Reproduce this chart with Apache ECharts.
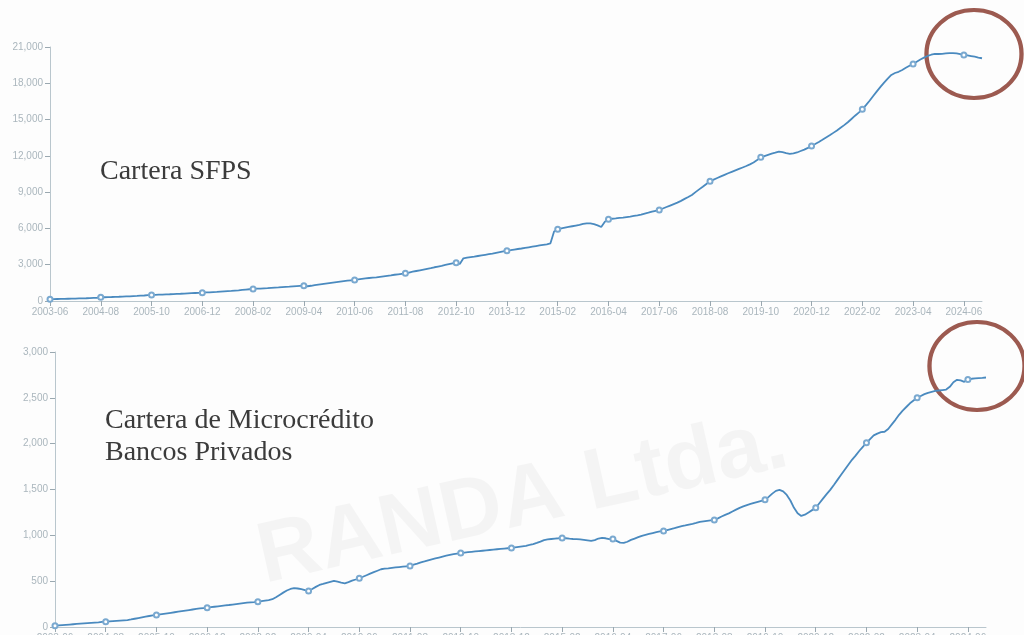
<!DOCTYPE html>
<html>
<head>
<meta charset="utf-8">
<title>Cartera SFPS / Microcrédito</title>
<script src="https://cdn.jsdelivr.net/npm/echarts@6/dist/echarts.min.js"></script>
<style>
  html, body { margin: 0; padding: 0; background: #fdfdfd; }
  #chart { width: 1024px; height: 635px; }
</style>
</head>
<body>
<div id="chart"></div>
<script>
// meses 2003-06 .. 2024-11
var months = []
for (var y = 2003, m = 6; months.length < 258; m++) {
  if (m > 12) { m = 1; y++ }
  months.push(y + '-' + (m < 10 ? '0' + m : m))
}

var sfpsTicks = [0, 3000, 6000, 9000, 12000, 15000, 18000, 21000]
var microTicks = [0, 500, 1000, 1500, 2000, 2500, 3000]

// Cartera SFPS (mensual)
var sfps = [
  150, 158, 165, 170, 178, 185, 192, 200, 210, 218, 228, 240, 255, 270,
  300, 312, 320, 330, 342, 352, 365, 378, 390, 405, 420, 438, 455, 478,
  500, 512, 525, 535, 548, 560, 575, 588, 600, 615, 630, 645, 660, 675,
  690, 705, 720, 738, 755, 775, 795, 815, 835, 860, 885, 915, 945, 972,
  1000, 1015, 1030, 1048, 1065, 1085, 1105, 1125, 1148, 1170, 1190, 1215, 1235, 1255,
  1270, 1220, 1260, 1320, 1360, 1400, 1440, 1480, 1520, 1560, 1600, 1640, 1680, 1710,
  1740, 1790, 1830, 1870, 1900, 1930, 1960, 2000, 2040, 2080, 2120, 2170, 2210, 2250,
  2290, 2350, 2420, 2480, 2540, 2600, 2660, 2720, 2790, 2850, 2910, 2980, 3050, 3110,
  3170, 3060, 3530, 3580, 3620, 3660, 3720, 3770, 3820, 3870, 3920, 3980, 4040, 4100,
  4160, 4200, 4250, 4300, 4340, 4390, 4440, 4490, 4540, 4590, 4640, 4690, 4770, 5750,
  5930, 6000, 6060, 6120, 6180, 6240, 6300, 6370, 6420, 6410, 6350, 6250, 6120, 6550,
  6760, 6800, 6830, 6870, 6900, 6940, 6980, 7030, 7080, 7140, 7230, 7300, 7380, 7460,
  7530, 7650, 7770, 7890, 8010, 8130, 8280, 8440, 8600, 8770, 9000, 9230, 9450, 9680,
  9900, 10040, 10170, 10300, 10430, 10560, 10680, 10800, 10920, 11040, 11160, 11300, 11450, 11650,
  11880, 11980, 12080, 12180, 12260, 12350, 12300, 12220, 12160, 12200, 12280, 12400, 12520, 12660,
  12820, 12980, 13150, 13330, 13520, 13700, 13900, 14100, 14320, 14540, 14780, 15050, 15320, 15580,
  15850, 16200, 16560, 16950, 17330, 17700, 18050, 18380, 18690, 18850, 18950, 19100, 19280, 19450,
  19600, 19780, 19960, 20120, 20260, 20360, 20430, 20420, 20440, 20470, 20490, 20500, 20470, 20410,
  20340, 20300, 20250, 20200, 20130, 20070
]

// Cartera de Microcrédito Bancos Privados (mensual)
var micro = [
  15, 18, 21, 24, 27, 30, 33, 36, 39, 42, 45, 48, 51, 55,
  58, 61, 64, 67, 70, 73, 76, 82, 90, 98, 106, 114, 120, 126,
  131, 137, 143, 149, 155, 161, 167, 173, 179, 185, 191, 197, 203, 207,
  211, 216, 221, 226, 231, 236, 240, 245, 250, 255, 260, 265, 269, 272,
  276, 282, 288, 294, 303, 325, 350, 375, 398, 415, 423, 420, 412, 402,
  393, 415, 438, 459, 470, 482, 492, 502, 495, 485, 477, 490, 505, 518,
  532, 548, 565, 582, 598, 614, 630, 636, 640, 645, 650, 654, 658, 662,
  666, 680, 692, 705, 716, 728, 738, 748, 758, 768, 778, 786, 794, 801,
  808, 812, 816, 820, 824, 828, 832, 836, 840, 844, 848, 852, 856, 859,
  862, 868, 874, 880, 886, 895, 905, 918, 932, 948, 955, 960, 965, 968,
  972, 968, 963, 960, 958, 955, 950, 945, 940, 948, 965, 972, 968, 958,
  961, 940, 920, 918, 930, 950, 965, 980, 995, 1005, 1015, 1025, 1035, 1042,
  1048, 1058, 1068, 1078, 1090, 1100, 1108, 1118, 1126, 1135, 1146, 1152, 1158, 1163,
  1168, 1185, 1205, 1223, 1240, 1260, 1280, 1300, 1315, 1330, 1342, 1354, 1365, 1376,
  1387, 1420, 1455, 1485, 1496, 1480, 1441, 1380, 1300, 1240, 1212, 1225, 1250, 1275,
  1300, 1350, 1400, 1450, 1496, 1550, 1605, 1660, 1715, 1770, 1824, 1870, 1920, 1965,
  2010, 2050, 2090, 2110, 2125, 2130, 2160, 2210, 2260, 2315, 2360, 2400, 2440, 2470,
  2500, 2520, 2540, 2555, 2566, 2575, 2580, 2585, 2590, 2620, 2670, 2697, 2690, 2675,
  2700, 2708, 2712, 2715, 2718, 2722
]

var lineColor = '#4a8abf'
var axisColor = '#b9c6cd'
var labelColor = '#aab6bd'

// etiqueta cada 14 meses
function every14(i) { return i % 14 === 0 }

function xAxisFor(idx) {
  return {
    type: 'category',
    gridIndex: idx,
    data: months,
    boundaryGap: false,
    axisLine: { lineStyle: { color: axisColor } },
    axisTick: { interval: every14, lineStyle: { color: '#9aa8b0' } },
    axisLabel: { interval: every14, color: labelColor, fontSize: 10, margin: 6, hideOverlap: false }
  }
}

function yAxisFor(idx, ticks) {
  return {
    type: 'value',
    gridIndex: idx,
    min: ticks[0],
    max: ticks[ticks.length - 1],
    interval: ticks[1] - ticks[0],
    axisLine: { show: true, lineStyle: { color: axisColor } },
    axisTick: { show: true, lineStyle: { color: '#9aa8b0' } },
    splitLine: { show: false },
    axisLabel: {
      color: labelColor,
      fontSize: 10,
      margin: 7,
      formatter: function(v) { return v.toLocaleString('en-US') }
    }
  }
}

function seriesFor(idx, data) {
  return {
    type: 'line',
    xAxisIndex: idx,
    yAxisIndex: idx,
    data: data,
    symbol: 'emptyCircle',
    symbolSize: 5,
    showAllSymbol: 'auto',
    lineStyle: { color: lineColor, width: 1.8 },
    itemStyle: { color: '#7aa9d0', borderWidth: 1 },
    animation: false
  }
}

var chart = echarts.init(document.getElementById('chart'), null, { renderer: 'canvas' })
chart.setOption({
  backgroundColor: '#fdfdfd',
  grid: [
    { left: 50, right: 42, top: 47, height: 254, containLabel: false, outerBoundsMode: 'none' },
    { left: 55, right: 38, top: 352, height: 275, containLabel: false, outerBoundsMode: 'none' }
  ],
  xAxis: [xAxisFor(0), xAxisFor(1)],
  yAxis: [yAxisFor(0, sfpsTicks), yAxisFor(1, microTicks)],
  series: [seriesFor(0, sfps), seriesFor(1, micro)],
  graphic: [
    {
      type: 'text', left: 250, top: 400, rotation: 0.22, z: -10, silent: true,
      style: { text: 'RANDA Ltda.', font: 'bold 86px "Liberation Sans"', fill: 'rgba(0,0,0,0.035)' }
    },
    {
      type: 'text', x: 100, y: 172,
      style: { text: 'Cartera SFPS', font: '28px "Liberation Serif"', fill: '#3b3b3b', verticalAlign: 'middle' }
    },
    {
      type: 'text', x: 105, y: 421,
      style: { text: 'Cartera de Microcrédito', font: '28px "Liberation Serif"', fill: '#3b3b3b', verticalAlign: 'middle' }
    },
    {
      type: 'text', x: 105, y: 453,
      style: { text: 'Bancos Privados', font: '28px "Liberation Serif"', fill: '#3b3b3b', verticalAlign: 'middle' }
    },
    {
      type: 'circle', x: 974, y: 54, scaleX: 1.08, shape: { cx: 0, cy: 0, r: 44 },
      style: { fill: 'none', stroke: '#9c5a50', lineWidth: 4 }
    },
    {
      type: 'circle', x: 977, y: 366, scaleX: 1.08, shape: { cx: 0, cy: 0, r: 44 },
      style: { fill: 'none', stroke: '#9c5a50', lineWidth: 4 }
    }
  ]
})
</script>
</body>
</html>
